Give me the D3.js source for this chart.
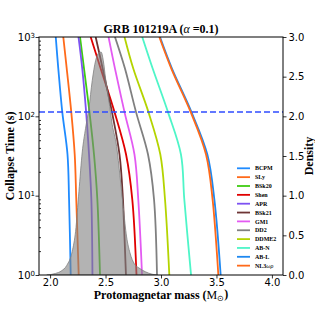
<!DOCTYPE html>
<html>
<head>
<meta charset="utf-8">
<script src="https://cdn.jsdelivr.net/npm/d3@7"></script>
<style>
  body { margin: 0; background: #fff; }
  svg { display: block; }
  .tick text { font-family: "DejaVu Sans", sans-serif; font-size: 10px; fill: #000; }
  .serif { font-family: "Liberation Serif", "Times New Roman", serif; font-weight: bold; }
</style>
</head>
<body>
<svg id="chart" width="315" height="315"></svg>
<script>
// collapse times (s) at which each EOS curve was read
const collapseTimes = [1000, 400, 113, 33, 9, 1];

// protomagnetar mass (Msun) of each EOS at those collapse times
const massBCPM  = [2.051, 2.074, 2.110, 2.157, 2.171, 2.186];
const massSLy   = [2.119, 2.150, 2.191, 2.222, 2.236, 2.258];
const massBSk20 = [2.270, 2.306, 2.355, 2.396, 2.426, 2.450];
const massShen  = [2.366, 2.456, 2.581, 2.685, 2.741, 2.779];
const massAPR   = [2.256, 2.290, 2.325, 2.351, 2.372, 2.382];
const massBSk21 = [2.411, 2.474, 2.558, 2.626, 2.657, 2.684];
const massGM1   = [2.527, 2.585, 2.671, 2.761, 2.795, 2.829];
const massDD2   = [2.585, 2.675, 2.775, 2.883, 2.937, 2.964];
const massDDME2 = [2.671, 2.750, 2.887, 2.994, 3.036, 3.075];
const massABN   = [2.831, 2.925, 3.063, 3.180, 3.210, 3.271];
const massABL   = [2.991, 3.099, 3.275, 3.418, 3.481, 3.538];
const massNL3   = [2.985, 3.093, 3.268, 3.406, 3.465, 3.517];

const eosNames  = ['BCPM', 'SLy', 'BSk20', 'Shen', 'APR', 'BSk21', 'GM1', 'DD2', 'DDME2', 'AB-N', 'AB-L', 'NL3ωρ'];
const eosMasses = [massBCPM, massSLy, massBSk20, massShen, massAPR, massBSk21, massGM1, massDD2, massDDME2, massABN, massABL, massNL3];
const eosColors = ['#1f8bff', '#ff6a1a', '#3fcc12', '#e00000', '#7d52f2', '#6e3535', '#e35af2', '#808080', '#b4d400', '#4ef5c8', '#1e88f0', '#ff6a1a'];

// mass distribution (density) of the GRB
const densityMass  = [1.97, 2.05, 2.10, 2.15, 2.20, 2.23, 2.26, 2.29, 2.32, 2.35, 2.38, 2.41, 2.44, 2.46, 2.48, 2.50, 2.53, 2.56, 2.60, 2.63, 2.66, 2.69, 2.72, 2.76, 2.80, 2.86, 2.92, 2.96];
const densityValue = [0.00, 0.02, 0.05, 0.12, 0.30, 0.55, 1.05, 1.55, 1.85, 2.10, 2.45, 2.70, 2.80, 2.81, 2.70, 2.48, 2.20, 1.90, 1.62, 1.25, 0.85, 0.48, 0.28, 0.14, 0.09, 0.04, 0.01, 0.00];

// observed collapse time (dashed line)
const observedTime = 113;

const xTicks = [2.0, 2.5, 3.0, 3.5, 4.0];
const yTicks = [1, 10, 100, 1000];
const densityTicks = [0, 0.5, 1.0, 1.5, 2.0, 2.5, 3.0];

const plotLeft = 39, plotRight = 283, plotTop = 37, plotBottom = 275;

const svg = d3.select('#chart');

const x = d3.scaleLinear().domain([1.9, 4.1]).range([plotLeft, plotRight]);
const y = d3.scaleLog().domain([1, 1000]).range([plotBottom, plotTop]);
const yd = d3.scaleLinear().domain([0, 3]).range([plotBottom, plotTop]);

svg.append('defs').append('clipPath').attr('id', 'plot-clip')
  .append('rect')
  .attr('x', plotLeft).attr('y', plotTop)
  .attr('width', plotRight - plotLeft).attr('height', plotBottom - plotTop);

const plot = svg.append('g').attr('clip-path', 'url(#plot-clip)');

// EOS curves
const line = d3.line()
  .x(d => x(d[0]))
  .y(d => y(d[1]))
  .curve(d3.curveCatmullRom.alpha(0.5));

eosMasses.forEach((masses, i) => {
  plot.append('path')
    .datum(masses.map((m, j) => [m, collapseTimes[j]]))
    .attr('d', line)
    .attr('fill', 'none')
    .attr('stroke', eosColors[i])
    .attr('stroke-width', 1.8);
});

// density on the twin axis
const area = d3.area()
  .x(d => x(d[0]))
  .y0(yd(0))
  .y1(d => yd(d[1]))
  .curve(d3.curveMonotoneX);

plot.append('path')
  .datum(densityMass.map((m, i) => [m, densityValue[i]]))
  .attr('d', area)
  .attr('fill', '#808080')
  .attr('fill-opacity', 0.6)
  .attr('stroke', '#808080')
  .attr('stroke-width', 0.8);

// observed collapse time
plot.append('line')
  .attr('x1', plotLeft).attr('x2', plotRight)
  .attr('y1', y(observedTime)).attr('y2', y(observedTime))
  .attr('stroke', '#2f4cff')
  .attr('stroke-width', 1.5)
  .attr('stroke-dasharray', '6,3');

// frame
svg.append('rect')
  .attr('x', plotLeft).attr('y', plotTop)
  .attr('width', plotRight - plotLeft).attr('height', plotBottom - plotTop)
  .attr('fill', 'none').attr('stroke', '#000').attr('stroke-width', 1);

// bottom axis
svg.append('g')
  .attr('transform', `translate(0,${plotBottom})`)
  .call(d3.axisBottom(x).tickValues(xTicks).tickFormat(d3.format('.1f')).tickSize(3.5).tickPadding(0.5));

// left axis (log), major ticks
const yAxis = svg.append('g')
  .attr('transform', `translate(${plotLeft},0)`)
  .call(d3.axisLeft(y).tickValues(yTicks).tickFormat('').tickSize(3.5).tickPadding(2));

yAxis.selectAll('.tick text')
  .attr('x', -4)
  .attr('dy', '0.32em')
  .each(function (d) {
    const t = d3.select(this);
    t.append('tspan').text('10');
    t.append('tspan').attr('dy', '-0.45em').attr('font-size', '7px').text(Math.round(Math.log10(d)));
  });

// left axis minor ticks (inward)
const minorTicks = [];
[1, 10, 100].forEach(p => { for (let k = 2; k <= 9; k++) minorTicks.push(p * k); });
svg.append('g')
  .attr('transform', `translate(${plotLeft},0)`)
  .call(d3.axisLeft(y).tickValues(minorTicks).tickFormat('').tickSize(-2));

// right axis (density)
svg.append('g')
  .attr('transform', `translate(${plotRight},0)`)
  .call(d3.axisRight(yd).tickValues(densityTicks).tickFormat(d3.format('.1f')).tickSize(3.5).tickPadding(2));

svg.selectAll('.domain').remove();
svg.selectAll('.tick line').attr('stroke', '#000').attr('stroke-width', 0.8);

// titles
const title = svg.append('text')
  .attr('class', 'serif')
  .attr('x', (plotLeft + plotRight) / 2).attr('y', 33)
  .attr('text-anchor', 'middle')
  .attr('font-size', '12px');
title.append('tspan').text('GRB 101219A (');
title.append('tspan').attr('font-style', 'italic').attr('font-weight', 'normal').text('α');
title.append('tspan').text(' =0.1)');

const xLabel = svg.append('text')
  .attr('class', 'serif')
  .attr('x', (plotLeft + plotRight) / 2).attr('y', 299)
  .attr('text-anchor', 'middle')
  .attr('font-size', '12px');
xLabel.append('tspan').text('Protomagnetar mass (');
xLabel.append('tspan').attr('font-weight', 'normal').text('M');
xLabel.append('tspan').attr('font-weight', 'normal').attr('font-size', '8px').attr('dy', '0.25em').text('⊙');
xLabel.append('tspan').attr('dy', '-0.25em').text(')');

svg.append('text')
  .attr('class', 'serif')
  .attr('transform', `translate(14,${(plotTop + plotBottom) / 2}) rotate(-90)`)
  .attr('text-anchor', 'middle')
  .attr('font-size', '12px')
  .text('Collapse Time (s)');

svg.append('text')
  .attr('class', 'serif')
  .attr('transform', `translate(313,${(plotTop + plotBottom) / 2}) rotate(-90)`)
  .attr('text-anchor', 'middle')
  .attr('font-size', '12px')
  .text('Density');

// legend
const legend = svg.append('g').attr('transform', 'translate(237,168.3)');
eosNames.forEach((name, i) => {
  const row = legend.append('g').attr('transform', `translate(0,${i * 8.85})`);
  row.append('line')
    .attr('x1', 0).attr('x2', 13)
    .attr('stroke', eosColors[i]).attr('stroke-width', 1.8);
  const label = row.append('text')
    .attr('class', 'serif')
    .attr('x', 18).attr('dy', '0.35em')
    .attr('font-size', '6px');
  if (name === 'NL3ωρ') {
    label.append('tspan').text('NL3');
    label.append('tspan').attr('font-style', 'italic').attr('font-weight', 'normal').text('ωρ');
  } else {
    label.text(name);
  }
});
</script>
</body>
</html>
